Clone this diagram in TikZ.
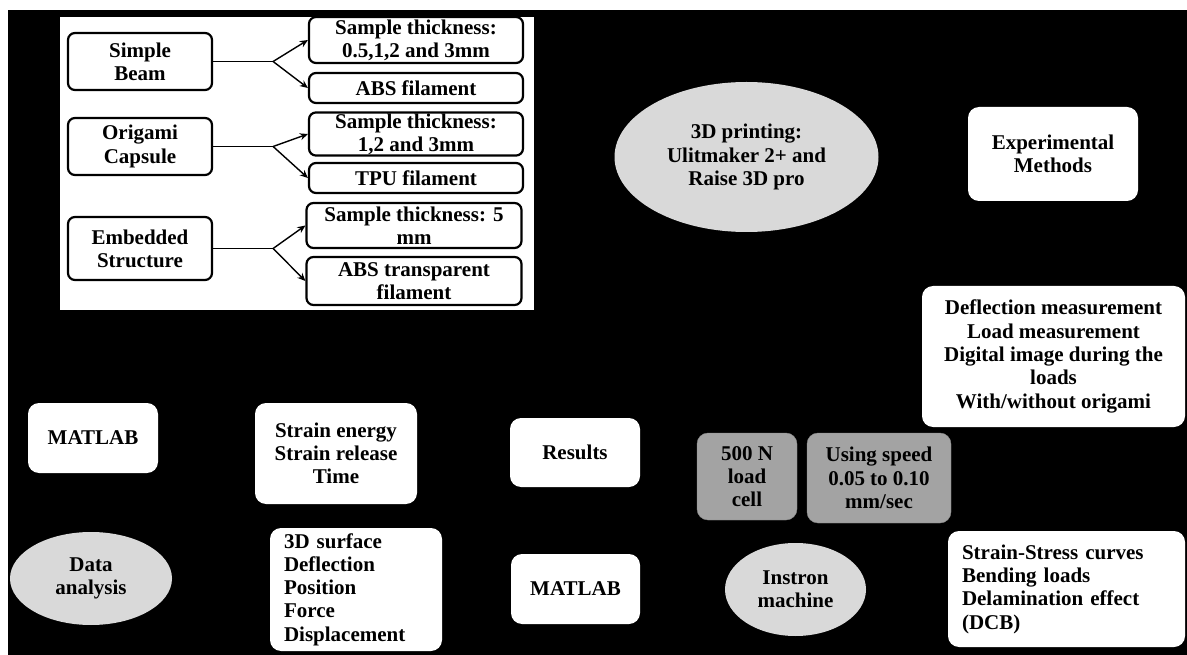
\documentclass[tikz,border=0pt]{standalone}
\usepackage{fontspec}
\setmainfont{Liberation Serif}
\usetikzlibrary{shapes.geometric,arrows.meta}
\definecolor{PaleGray}{HTML}{D9D9D9}
\definecolor{MidGray}{HTML}{A3A3A3}

\begin{document}
\begin{tikzpicture}[x=1pt,y=-1pt,
    every node/.style={font=\fontsize{21}{23.3}\selectfont\bfseries,align=center,inner sep=1pt},
    inbox/.style={draw=black,line width=2.2pt,rounded corners=7pt,fill=white},
    box/.style={fill=white,rounded corners=11pt},
    gbox/.style={fill=MidGray,draw=MidGray!85!black,rounded corners=11pt},
    oval/.style={ellipse,fill=PaleGray},
    arr/.style={-{Stealth[length=8pt,width=7pt]},line width=1.4pt},
    lnk/.style={line width=1.4pt}
  ]
    % page and inset
    \fill[white](0,0) rectangle (1187,655);
    \fill[black](8,10) rectangle (1187,655);
    \fill[white](60,17) rectangle (534,310);

    \node[inbox,minimum width=144,minimum height=57](sb) at (140,61.5) {Simple\\Beam};
    \node[inbox,minimum width=144,minimum height=57](oc) at (140,146.5) {Origami\\Capsule};
    \node[inbox,minimum width=144,minimum height=63](es) at (140,248.5) {Embedded\\Structure};
    \node[inbox,minimum width=214,minimum height=46](t1) at (416,40) {Sample thickness:\\0.5,1,2 and 3mm};
    \node[inbox,minimum width=214,minimum height=30](f1) at (416,88) {ABS filament};
    \node[inbox,minimum width=214,minimum height=42](t2) at (416,134) {Sample thickness:\\1,2 and 3mm};
    \node[inbox,minimum width=214,minimum height=30](f2) at (416,178) {TPU filament};
    \node[inbox,minimum width=215,minimum height=45](t3) at (414,225.5) {Sample thickness: 5\\mm};
    \node[inbox,minimum width=215,minimum height=48](f3) at (414,281) {ABS transparent\\filament};
    \foreach \src/\up/\dn in {sb/t1/f1,oc/t2/f2,es/t3/f3}{
      \draw[lnk](\src.east) -- ++(60,0) coordinate (sp);
      \draw[arr](sp) -- (\up.west);
      \draw[arr](sp) -- (\dn.west);
    }

    % main chart
    \node[oval,minimum width=264,minimum height=150](print) at (746.5,157) {3D printing:\\Ulitmaker 2+ and\\Raise 3D pro};
    \node[box,minimum width=170,minimum height=94](exp) at (1053,154) {Experimental\\Methods};
    \node[box,minimum width=263,minimum height=141](meas) at (1053.5,356.5) {Deflection measurement\\Load measurement\\Digital image during the\\loads\\With/without origami};
    \node[box,minimum width=130,minimum height=70](mat1) at (93,438) {MATLAB};
    \node[box,minimum width=162,minimum height=101](energy) at (336,453.5) {Strain energy\\Strain release\\Time};
    \node[box,minimum width=172,minimum height=123,align=left,text width=144](surf) at (356,589.5) {3D surface\\Deflection\\Position\\Force\\Displacement};
    \node[box,minimum width=130,minimum height=69](res) at (575,452.5) {Results};
    \node[box,minimum width=129,minimum height=70](mat2) at (575.5,589) {MATLAB};
    \node[gbox,minimum width=100,minimum height=87](cell) at (747,476.5) {500 N\\load\\cell};
    \node[gbox,minimum width=144,minimum height=90](speed) at (879,478) {Using speed\\0.05 to 0.10\\mm/sec};
    \node[oval,minimum width=141,minimum height=93](instron) at (795.5,589.5) {Instron\\machine};
    \node[box,minimum width=237,minimum height=116,align=left,text width=209](curves) at (1066.5,589) {Strain-Stress curves\\Bending loads\\Delamination effect\\(DCB)};
    \node[oval,minimum width=162,minimum height=93](data) at (91,578.5) {Data\\analysis};
  \end{tikzpicture}
\end{document}
